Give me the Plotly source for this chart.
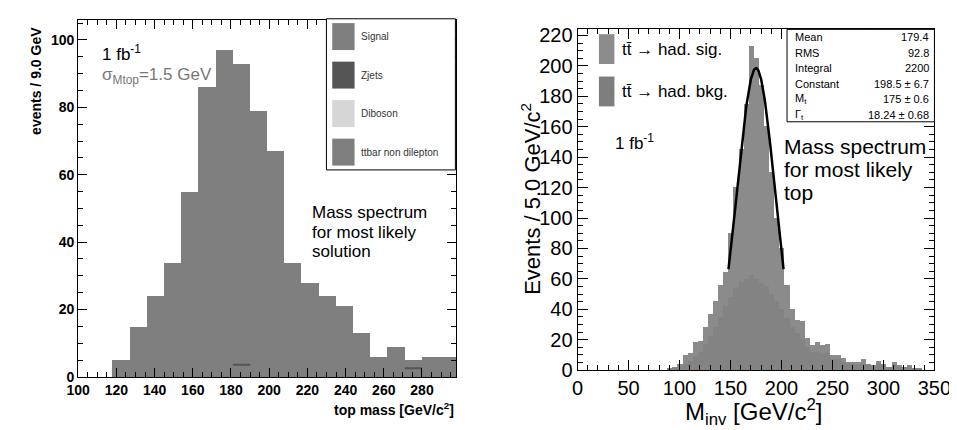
import numpy as np
import plotly.graph_objects as go

# ---------------- data: left panel ----------------
left_bin_low = 100
left_bin_width = 9
left_counts = [0, 0, 5, 15, 24, 34, 55, 86, 97, 93, 79, 67, 34, 28, 24, 21, 13, 6, 9, 5, 6, 6]
zjets_bin_low = [181, 271]
zjets_values = [3.6, 2.6]
left_xticks = [100, 120, 140, 160, 180, 200, 220, 240, 260, 280]
left_yticks = [0, 20, 40, 60, 80, 100]
legend_labels = ["Signal", "Zjets", "Diboson", "ttbar non dilepton"]

# ---------------- data: right panel ----------------
right_bin_width = 5
right_centers = list(range(90, 340, 5))
sig_counts = [1, 2, 4, 10, 11, 18, 19, 28, 37, 45, 56, 64, 90, 120, 145, 175, 213, 205,
              187, 160, 130, 100, 80, 56, 40, 33, 32, 21, 16, 18, 16, 17, 10, 10, 8, 5,
              5, 5, 7, 4, 3, 6, 4, 2, 5, 3, 2, 3, 1, 1]
bkg_counts = [1, 1, 2, 4, 6, 9, 12, 17, 22, 28, 35, 42, 48, 54, 58, 60, 62, 60,
              57, 55, 50, 45, 40, 34, 28, 24, 20, 15, 12, 12, 11, 11, 7, 7, 5, 4,
              3, 3, 4, 3, 2, 4, 3, 2, 3, 2, 2, 2, 1, 1]
fit_constant = 198.5
fit_mean = 175.0
fit_width = 18.24
fit_lo, fit_hi = 148, 202
right_xticks = [0, 50, 100, 150, 200, 250, 300, 350]
right_yticks = list(range(0, 221, 20))
stats_names = ["Mean", "RMS", "Integral", "Constant", "M<sub>t</sub>", "Γ<sub>t</sub>"]
stats_values = ["179.4", "92.8", "2200", "198.5 ± 6.7", "175 ± 0.6", "18.24 ± 0.68"]
right_legend = ["tt̄ → had. sig.", "tt̄ → had. bkg."]

# ---------------- figure ----------------
W, H = 957, 430
FONT = "Liberation Sans, Arial, sans-serif"


def px(x):
    return x / W


def py(y):
    return 1 - y / H


fig = go.Figure()

left_centers = [left_bin_low + left_bin_width * (i + 0.5) for i in range(len(left_counts))]
fig.add_trace(go.Bar(x=left_centers, y=left_counts, width=left_bin_width,
                     marker=dict(color="#7f7f7f", line=dict(width=0)),
                     xaxis="x", yaxis="y", showlegend=False))

zx, zy = [], []
for lo, v in zip(zjets_bin_low, zjets_values):
    zx += [lo, lo + left_bin_width, None]
    zy += [v, v, None]
fig.add_trace(go.Scatter(x=zx, y=zy, mode="lines", line=dict(color="#555555", width=2),
                         xaxis="x", yaxis="y", showlegend=False))

fig.add_trace(go.Bar(x=right_centers, y=sig_counts, width=right_bin_width,
                     marker=dict(color="#8b8b8b", line=dict(width=0)),
                     xaxis="x2", yaxis="y2", showlegend=False))
fig.add_trace(go.Bar(x=right_centers, y=bkg_counts, width=right_bin_width,
                     marker=dict(color="#838383", line=dict(width=0)),
                     xaxis="x2", yaxis="y2", showlegend=False))

fx = np.linspace(fit_lo, fit_hi, 120)
fy = fit_constant * np.exp(-0.5 * ((fx - fit_mean) / fit_width) ** 2)
fig.add_trace(go.Scatter(x=fx, y=fy, mode="lines", line=dict(color="black", width=2.5),
                         xaxis="x2", yaxis="y2", showlegend=False))

ax_common = dict(showline=True, linecolor="black", linewidth=1, mirror="ticks",
                 ticks="inside", tickcolor="black", showgrid=False, zeroline=False,
                 ticklabeloverflow="allow")

fig.update_layout(
    width=W, height=H, autosize=False,
    margin=dict(l=0, r=0, t=0, b=0),
    paper_bgcolor="white", plot_bgcolor="white",
    barmode="overlay", bargap=0,
    xaxis=dict(domain=[px(60), px(450)], range=[100, 298], anchor="y",
               tickvals=left_xticks, ticklen=9,
               minor=dict(dtick=5, tick0=100, ticklen=5, ticks="inside", tickcolor="black"),
               tickfont=dict(family=FONT, size=14, color="black", weight="bold"),
               **ax_common),
    yaxis=dict(domain=[py(378), py(7)], range=[0, 106], anchor="x",
               tickvals=left_yticks, ticklen=9,
               minor=dict(dtick=5, tick0=0, ticklen=5, ticks="inside", tickcolor="black"),
               tickfont=dict(family=FONT, size=14, color="black", weight="bold"),
               **ax_common),
    xaxis2=dict(domain=[px(575), px(943)], range=[0, 350], anchor="y2",
                tickvals=right_xticks, ticklen=10,
                minor=dict(dtick=10, tick0=0, ticklen=5, ticks="inside", tickcolor="black"),
                tickfont=dict(family=FONT, size=20, color="black"),
                **ax_common),
    yaxis2=dict(domain=[py(371), py(17)], range=[0, 224], anchor="x2",
                tickvals=right_yticks, ticklen=10,
                minor=dict(dtick=5, tick0=0, ticklen=5, ticks="inside", tickcolor="black"),
                tickfont=dict(family=FONT, size=20, color="black"),
                **ax_common),
)

shapes = []
ann = []


def text(x, y, s, size, color="black", xa="left", ya="middle", bold=False, angle=0):
    ann.append(dict(x=px(x), y=py(y), xref="paper", yref="paper", text=s, showarrow=False,
                    xanchor=xa, yanchor=ya, textangle=angle,
                    font=dict(family=FONT, size=size, color=color,
                              weight="bold" if bold else "normal")))


# axis titles
text(17, 70, "events / 9.0 GeV", 14, xa="center", bold=True, angle=-90)
text(450, 411, "top mass [GeV/c<sup>2</sup>]", 14, xa="right", bold=True)
text(527, 193, "Events / 5.0 GeV/c<sup>2</sup>", 22, xa="center", angle=-90)
text(757, 414, "M<sub>inv</sub> [GeV/c<sup>2</sup>]", 24, xa="center")

# left panel annotations
text(83, 42, "1 fb<sup>-1</sup>", 17)
text(83, 65, "σ<sub>Mtop</sub>=1.5 GeV", 17, color="#777777")
for i, line in enumerate(["Mass spectrum", "for most likely", "solution"]):
    text(299, 207 + 20.5 * i, line, 17)

# left legend
shapes.append(dict(type="rect", xref="paper", yref="paper", x0=px(316), x1=px(449),
                   y0=py(163), y1=py(6), line=dict(color="black", width=1), fillcolor="white"))
leg_colors = ["#7f7f7f", "#555555", "#d6d6d6", "#7f7f7f"]
for i, (lab, c) in enumerate(zip(legend_labels, leg_colors)):
    yc = 24.5 + 40 * i
    shapes.append(dict(type="rect", xref="paper", yref="paper", x0=px(322), x1=px(345),
                       y0=py(yc + 14), y1=py(yc - 14), line=dict(width=0), fillcolor=c))
    text(350, yc, lab, 10, color="#333333")

# right legend
r_colors = ["#8c8c8c", "#7e7e7e"]
for i, (lab, c) in enumerate(zip(right_legend, r_colors)):
    yc = 37.5 + 44 * i
    shapes.append(dict(type="rect", xref="paper", yref="paper", x0=px(597), x1=px(613),
                       y0=py(yc + 15.5), y1=py(yc - 15.5), line=dict(width=0), fillcolor=c))
    text(619, yc, lab, 17)
text(612, 134, "1 fb<sup>-1</sup>", 17)
for i, line in enumerate(["Mass spectrum", "for most likely", "top"]):
    text(786, 139 + 23.5 * i, line, 21)

# stats box
shapes.append(dict(type="rect", xref="paper", yref="paper", x0=px(791), x1=px(943),
                   y0=py(113), y1=py(17), line=dict(color="black", width=1), fillcolor="white"))
for i, (n, v) in enumerate(zip(stats_names, stats_values)):
    yc = 25 + 16.2 * i
    text(797, yc, n, 11)
    text(939, yc, v, 11, xa="right")

fig.update_layout(shapes=shapes, annotations=ann)
fig.write_html("out.html")
